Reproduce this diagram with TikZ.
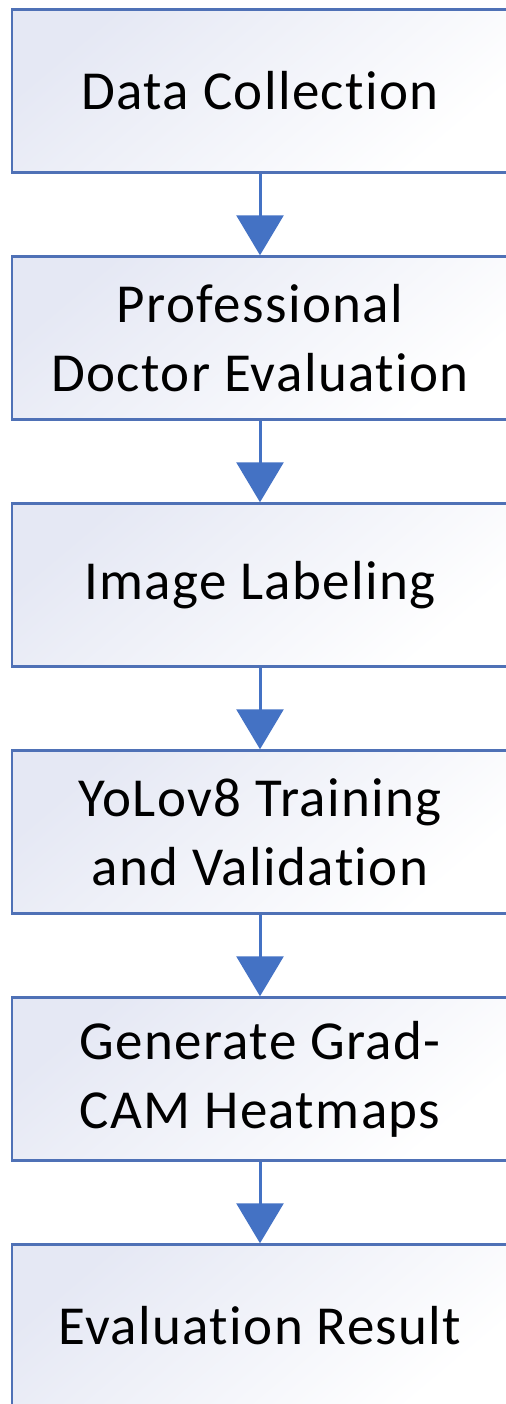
\documentclass[tikz,border=0pt]{standalone}
\usepackage{fontspec}
\setmainfont[LetterSpace=2.5,Ligatures=NoCommon]{Carlito}
\usetikzlibrary{positioning}
\usetikzlibrary{arrows.meta}
\definecolor{boxline}{HTML}{4F71B6}
\definecolor{flowblue}{HTML}{4472C4}
\definecolor{boxtint}{HTML}{E5E8F4}

\begin{document}
\begin{tikzpicture}[
  stage/.style={rectangle,draw=boxline,line width=1.25pt,minimum width=248pt,minimum height=81.5pt,
    top color=boxtint,bottom color=white,shading angle=40,
    font=\fontsize{27.5}{34.5}\selectfont,text=black,align=center,inner sep=0pt},
  flow/.style={draw=flowblue,line width=1.5pt,-{Triangle[length=20pt,width=23.5pt,fill=flowblue]}}
]
\useasboundingbox (0,0) rectangle (253pt,-702pt);
\clip (0,0) rectangle (253pt,-702pt);

\node[stage] (collect) at (130pt,-45.5pt) {Data Collection};
\node[stage,below=40.75pt of collect] (doctor) {Professional\\Doctor Evaluation};
\node[stage,below=40.75pt of doctor] (label) {Image Labeling};
\node[stage,below=40.75pt of label] (train) {YoLov8 Training\\and Validation};
\node[stage,below=40.75pt of train] (gradcam) {Generate Grad-\\CAM Heatmaps};
\node[stage,below=40.75pt of gradcam] (result) {Evaluation Result};

\draw[flow] (collect) -- (doctor);
\draw[flow] (doctor) -- (label);
\draw[flow] (label) -- (train);
\draw[flow] (train) -- (gradcam);
\draw[flow] (gradcam) -- (result);

\end{tikzpicture}
\end{document}
